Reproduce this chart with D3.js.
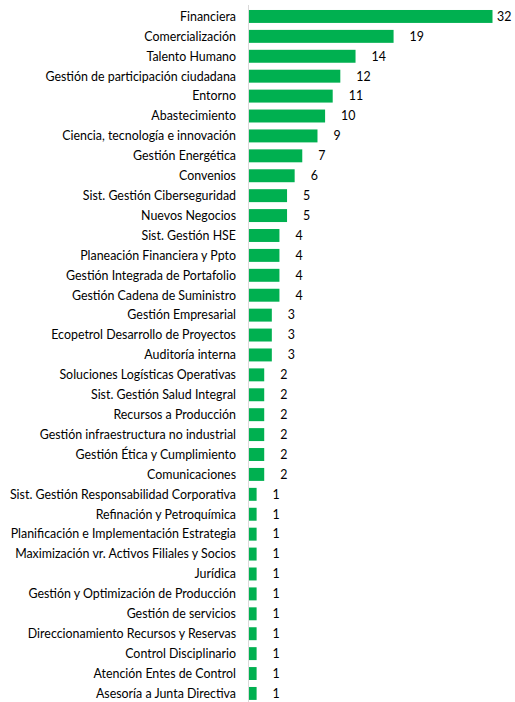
<!DOCTYPE html>
<html><head><meta charset="utf-8">
<script src="https://cdn.jsdelivr.net/npm/d3@7"></script>
<style>body{margin:0;background:#fff}svg{display:block}</style>
</head><body>
<script>
const categories = ["Financiera","Comercialización","Talento Humano","Gestión de participación ciudadana","Entorno","Abastecimiento","Ciencia, tecnología e innovación","Gestión Energética","Convenios","Sist. Gestión Ciberseguridad","Nuevos Negocios","Sist. Gestión HSE","Planeación Financiera y Ppto","Gestión Integrada de Portafolio","Gestión Cadena de Suministro","Gestión Empresarial","Ecopetrol Desarrollo de Proyectos","Auditoría interna","Soluciones Logísticas Operativas","Sist. Gestión Salud Integral","Recursos a Producción","Gestión infraestructura no industrial","Gestión Ética y Cumplimiento","Comunicaciones","Sist. Gestión Responsabilidad Corporativa","Refinación y Petroquímica","Planificación e Implementación Estrategia","Maximización vr. Activos Filiales y Socios","Jurídica","Gestión y Optimización de Producción","Gestión de servicios","Direccionamiento Recursos y Reservas","Control Disciplinario","Atención Entes de Control","Asesoría a Junta Directiva"];
const values = [32,19,14,12,11,10,9,7,6,5,5,4,4,4,4,3,3,3,2,2,2,2,2,2,1,1,1,1,1,1,1,1,1,1,1];

const W = 515, H = 702;
const svg = d3.select("body").append("svg").attr("width", W).attr("height", H);
const font = "Lato, 'Open Sans', sans-serif";

const x = d3.scaleLinear().domain([0, 32]).range([249, 492.5]);
const y = d3.scaleBand().domain(categories).range([6.5, 703.4]).paddingInner(0.35).paddingOuter(0.175);

svg.append("line").attr("x1", 248.5).attr("x2", 248.5).attr("y1", 5).attr("y2", H)
  .attr("stroke", "#d9d9d9").attr("stroke-width", 1);

svg.selectAll("rect.bar").data(categories).join("rect").attr("class", "bar")
  .attr("x", x(0)).attr("y", (d) => y(d))
  .attr("width", (d, i) => x(values[i]) - x(0)).attr("height", y.bandwidth())
  .attr("fill", "#00b050");

svg.selectAll("text.cat").data(categories).join("text").attr("class", "cat")
  .attr("x", 236).attr("y", (d) => y(d) + y.bandwidth() / 2).attr("dy", "0.35em")
  .attr("text-anchor", "end").attr("font-family", font).attr("font-size", 12.4)
  .attr("fill", "#000").text((d) => d);

svg.selectAll("text.val").data(categories).join("text").attr("class", "val")
  .attr("x", (d, i) => Math.min(x(values[i]) + 16, 497)).attr("y", (d) => y(d) + y.bandwidth() / 2).attr("dy", "0.35em")
  .attr("text-anchor", "start").attr("font-family", font).attr("font-size", 12.4)
  .attr("fill", "#000").text((d, i) => values[i]);
</script>
</body></html>
